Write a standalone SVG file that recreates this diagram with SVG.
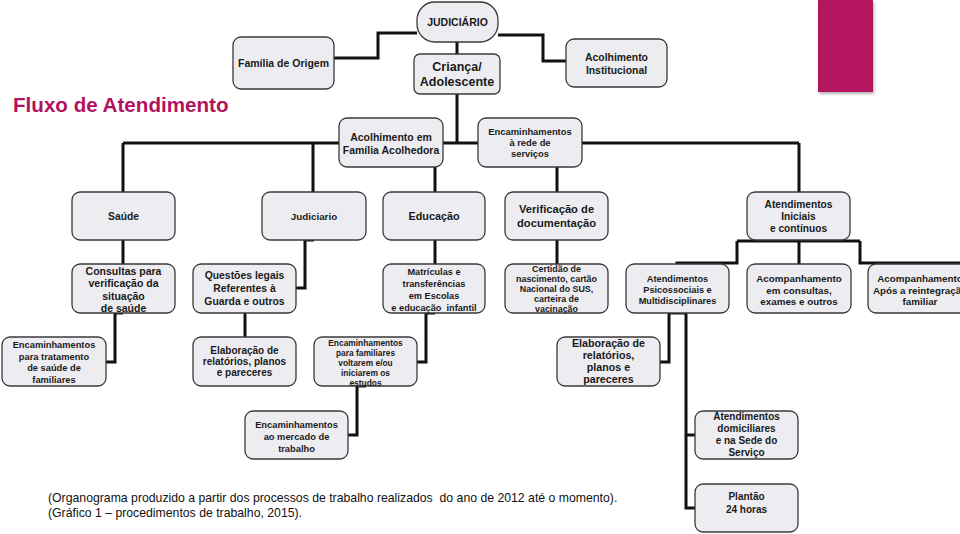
<svg xmlns="http://www.w3.org/2000/svg" width="960" height="534" viewBox="0 0 960 534">
<defs>
<filter id="sh" x="-10%" y="-10%" width="130%" height="130%"><feDropShadow dx="1" dy="2" stdDeviation="1.5" flood-color="#000" flood-opacity="0.3"/></filter>
</defs>
<style>
.b{fill:#ededf1;stroke:#3a3a3a;stroke-width:1.3}
.t{font-family:"Liberation Sans",Arial,sans-serif;font-weight:bold;fill:#1a1a1a;text-anchor:middle}
.c{fill:none;stroke:#111;stroke-width:3;stroke-linejoin:miter}
.f{font-family:"Liberation Sans",Arial,sans-serif;font-size:12.25px;fill:#111}
</style>
<rect width="960" height="534" fill="#fff"/>
<rect x="818" y="0" width="55" height="92" fill="#b3125f" filter="url(#sh)"/>
<text x="13" y="112" font-family="Liberation Sans, Arial, sans-serif" font-weight="bold" font-size="20.6" fill="#b3125f">Fluxo de Atendimento</text>

<g id="connectors" class="c">
<path d="M417,33 H378 V58 H334"/>
<path d="M498,35 H543 V61 H566"/>
<path d="M457,42 V143"/>
<path d="M123,143 H799"/>
<path d="M123,143 V192"/>
<path d="M313,143 V192"/>
<path d="M435,167 V192"/>
<path d="M557,167 V192"/>
<path d="M799,143 V192"/>
<path d="M123,240 V264"/>
<path d="M314,240 H305 V288 H296"/>
<path d="M435,240 V264"/>
<path d="M557,240 V264"/>
<path d="M737,241 H860"/>
<path d="M737,241 V263 H677 V264"/>
<path d="M799,240 V264"/>
<path d="M860,241 V263 H965"/>
<path d="M123,313 H115 V362 H106"/>
<path d="M245,313 V337"/>
<path d="M435,313 H426 V362 H417"/>
<path d="M366,386 H357 V435 H348"/>
<path d="M669,313 H686"/>
<path d="M669,313 V362 H660"/>
<path d="M686,313 V508 H695"/>
<path d="M686,435 H695"/>
</g>

<g id="judiciario"><rect class="b" x="417" y="2" width="81" height="40" rx="18"/><text class="t" font-size="10.5" x="457.5" y="26">JUDICIÁRIO</text></g>
<g id="familia-origem"><rect class="b" x="233" y="37" width="101" height="52" rx="8"/><text class="t" font-size="10.5" x="283.5" y="67">Família de Origem</text></g>
<g id="crianca"><rect class="b" x="414" y="54" width="86" height="40" rx="6"/><text class="t" font-size="12.5" x="457" y="71">Criança/</text><text class="t" font-size="12.5" x="457" y="86">Adolescente</text></g>
<g id="acolhimento-institucional"><rect class="b" x="566" y="39" width="101" height="48" rx="8"/><text class="t" font-size="10.4" x="616.5" y="61">Acolhimento</text><text class="t" font-size="10.4" x="616.5" y="74">Institucional</text></g>
<g id="acolhimento-familia"><rect class="b" x="339" y="118" width="104" height="49" rx="8"/><text class="t" font-size="10.5" x="391" y="141">Acolhimento em</text><text class="t" font-size="10.5" x="391" y="154">Família Acolhedora</text></g>
<g id="encaminhamentos-rede"><rect class="b" x="478" y="118" width="104" height="49" rx="8"/><text class="t" font-size="9.4" x="530" y="135">Encaminhamentos</text><text class="t" font-size="9.4" x="530" y="146">à rede de</text><text class="t" font-size="9.4" x="530" y="157">serviços</text></g>

<g id="saude"><rect class="b" x="72" y="192" width="103" height="48" rx="8"/><text class="t" font-size="10.3" x="123.5" y="219.5">Saúde</text></g>
<g id="judiciario2"><rect class="b" x="262" y="192" width="104" height="48" rx="8"/><text class="t" font-size="9.8" x="314" y="219.5">Judiciario</text></g>
<g id="educacao"><rect class="b" x="383" y="192" width="102" height="48" rx="8"/><text class="t" font-size="10.8" x="434" y="219.5">Educação</text></g>
<g id="verificacao"><rect class="b" x="505" y="192" width="103" height="48" rx="8"/><text class="t" font-size="11.2" x="556.5" y="213">Verificação de</text><text class="t" font-size="11.2" x="556.5" y="227">documentação</text></g>
<g id="atendimentos-iniciais"><rect class="b" x="747" y="192" width="103" height="48" rx="8"/><text class="t" font-size="10.2" x="798.5" y="208">Atendimentos</text><text class="t" font-size="10.2" x="798.5" y="220">Iniciais</text><text class="t" font-size="10.2" x="798.5" y="232">e contínuos</text></g>

<g id="consultas"><rect class="b" x="72" y="264" width="103" height="49" rx="8"/><text class="t" font-size="10.5" x="123.5" y="275">Consultas para</text><text class="t" font-size="10.5" x="123.5" y="287">verificação da</text><text class="t" font-size="10.5" x="123.5" y="300">situação</text><text class="t" font-size="10.5" x="123.5" y="312">de saúde</text></g>
<g id="questoes"><rect class="b" x="193" y="264" width="103" height="49" rx="8"/><text class="t" font-size="10.4" x="244.5" y="279">Questões legais</text><text class="t" font-size="10.4" x="244.5" y="292">Referentes à</text><text class="t" font-size="10.4" x="244.5" y="305">Guarda e outros</text></g>
<g id="matriculas"><rect class="b" x="383" y="264" width="102" height="49" rx="8"/><text class="t" font-size="9.2" x="434" y="275">Matrículas e</text><text class="t" font-size="9.2" x="434" y="287">transferências</text><text class="t" font-size="9.2" x="434" y="299">em Escolas</text><text class="t" font-size="9.2" x="434" y="310.5" xml:space="preserve">e educação  infantil</text></g>
<g id="certidao"><rect class="b" x="505" y="264" width="103" height="49" rx="8"/><text class="t" font-size="8.9" x="556.5" y="272">Certidão de</text><text class="t" font-size="8.9" x="556.5" y="282">nascimento, cartão</text><text class="t" font-size="8.9" x="556.5" y="292">Nacional do SUS,</text><text class="t" font-size="8.9" x="556.5" y="302">carteira de</text><text class="t" font-size="8.9" x="556.5" y="312">vacinação</text></g>
<g id="psicossociais"><rect class="b" x="626" y="264" width="103" height="49" rx="8"/><text class="t" font-size="9.2" x="677.5" y="282">Atendimentos</text><text class="t" font-size="9.2" x="677.5" y="293">Psicossociais e</text><text class="t" font-size="9.2" x="677.5" y="304">Multidisciplinares</text></g>
<g id="acompanhamento-consultas"><rect class="b" x="747" y="264" width="104" height="49" rx="8"/><text class="t" font-size="9.8" x="799" y="282">Acompanhamento</text><text class="t" font-size="9.8" x="799" y="294">em consultas,</text><text class="t" font-size="9.8" x="799" y="305">exames e outros</text></g>
<g id="acompanhamento-apos"><rect class="b" x="868" y="264" width="104" height="49" rx="8"/><text class="t" font-size="9.8" x="920" y="282">Acompanhamento</text><text class="t" font-size="9.8" x="920" y="294">Após a reintegração</text><text class="t" font-size="9.8" x="920" y="305">familiar</text></g>

<g id="enc-tratamento"><rect class="b" x="2" y="337" width="104" height="49" rx="8"/><text class="t" font-size="9.3" x="54" y="348">Encaminhamentos</text><text class="t" font-size="9.3" x="54" y="359.5">para tratamento</text><text class="t" font-size="9.3" x="54" y="371">de saúde de</text><text class="t" font-size="9.3" x="54" y="383">familiares</text></g>
<g id="elaboracao1"><rect class="b" x="193" y="337" width="103" height="49" rx="8"/><text class="t" font-size="10" x="244.5" y="354">Elaboração de</text><text class="t" font-size="10" x="244.5" y="365">relatórios, planos</text><text class="t" font-size="10" x="244.5" y="376">e pareceres</text></g>
<g id="enc-familiares"><rect class="b" x="314" y="337" width="103" height="49" rx="8"/><text class="t" font-size="8.4" x="365.5" y="346">Encaminhamentos</text><text class="t" font-size="8.4" x="365.5" y="356">para familiares</text><text class="t" font-size="8.4" x="365.5" y="366">voltarem e/ou</text><text class="t" font-size="8.4" x="365.5" y="376">iniciarem os</text><text class="t" font-size="8.4" x="365.5" y="385.5">estudos</text></g>
<g id="elaboracao2"><rect class="b" x="557" y="337" width="103" height="49" rx="8"/><text class="t" font-size="10.7" x="608.5" y="347">Elaboração de</text><text class="t" font-size="10.7" x="608.5" y="359">relatórios,</text><text class="t" font-size="10.7" x="608.5" y="371">planos e</text><text class="t" font-size="10.7" x="608.5" y="383">pareceres</text></g>

<g id="enc-mercado"><rect class="b" x="245" y="411" width="103" height="48" rx="8"/><text class="t" font-size="9.3" x="296.5" y="428">Encaminhamentos</text><text class="t" font-size="9.3" x="296.5" y="440">ao mercado de</text><text class="t" font-size="9.3" x="296.5" y="451.5">trabalho</text></g>
<g id="atend-domiciliares"><rect class="b" x="695" y="411" width="103" height="48" rx="8"/><text class="t" font-size="10" x="746.5" y="420">Atendimentos</text><text class="t" font-size="10" x="746.5" y="432">domiciliares</text><text class="t" font-size="10" x="746.5" y="444">e na Sede do</text><text class="t" font-size="10" x="746.5" y="456">Serviço</text></g>
<g id="plantao"><rect class="b" x="695" y="484" width="103" height="48" rx="8"/><text class="t" font-size="10" x="746.5" y="500">Plantão</text><text class="t" font-size="10" x="746.5" y="513">24 horas</text></g>

<text class="f" x="48" y="502" xml:space="preserve">(Organograma produzido a partir dos processos de trabalho realizados  do ano de 2012 até o momento).</text>
<text class="f" x="48" y="517">(Gráfico 1 – procedimentos de trabalho, 2015).</text>
</svg>
